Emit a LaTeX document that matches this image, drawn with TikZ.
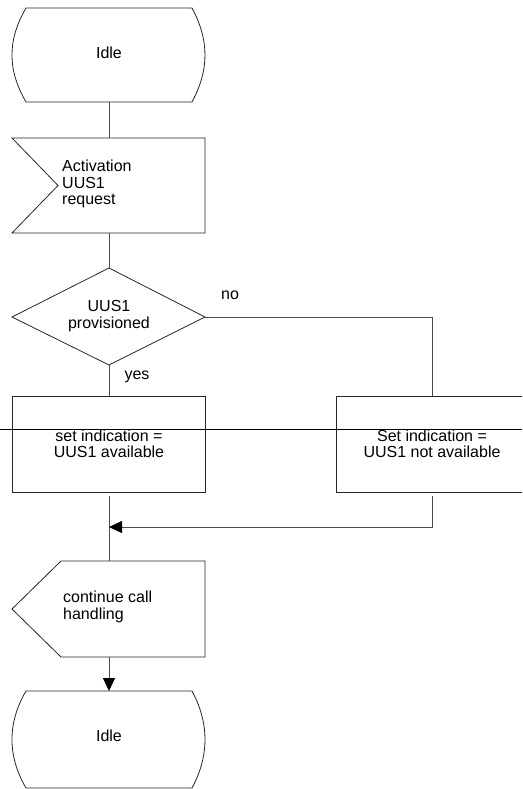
\documentclass[tikz,border=0pt]{standalone}
\usepackage{fontspec}
\setmainfont{Liberation Sans}
\usetikzlibrary{arrows.meta}
\begin{document}
\begin{tikzpicture}[x=1pt,y=-1pt,
  font=\fontsize{16}{16.5}\selectfont,
  shp/.style={draw=black!85, line width=0.8pt},
  conn/.style={draw=black!70, line width=0.8pt},
  lbl/.style={align=center, inner sep=0pt},
  tip/.style={-{Triangle[length=13pt,width=12pt,color=black]}}]
\useasboundingbox (0,0) rectangle (522,789);
\clip (0,0) rectangle (522,789);

% top state
\draw[shp] (26,8) -- (192,8) .. controls (209.3,40) and (209.3,70) .. (192,102)
  -- (26,102) .. controls (7.3,70) and (7.3,40) .. (26,8) -- cycle;
\node[lbl] (idle1) at (109,53) {Idle};
\coordinate (idle1s) at (109,102);

% input signal
\draw[shp] (12,138) -- (205,138) -- (205,233) -- (12,233) -- (58,185.5) -- cycle;
\node[lbl, align=left, anchor=west] (act) at (62,184) {Activation\\UUS1\\request};
\coordinate (actn) at (109,138);
\coordinate (acts) at (109,233);

% decision
\draw[shp] (12,317) -- (109,268) -- (205,317) -- (109,365) -- cycle;
\node[lbl] (dec) at (109,316) {UUS1\\provisioned};
\coordinate (decn) at (109,268);
\coordinate (decs) at (109,365);
\coordinate (dece) at (205,317);
\node[lbl] (no) at (230,295) {no};
\node[lbl] (yes) at (137,377) {yes};

% tasks
\draw[shp] (12,396) rectangle (205,492);
\node[lbl] (lbox) at (109,444) {set indication =\\UUS1 available};
\coordinate (lbn) at (109,396);
\coordinate (lbs) at (109,496);
\draw[shp] (336,396) rectangle (529,492);
\node[lbl] (rbox) at (432,444) {Set indication =\\UUS1 not available};
\coordinate (rbn) at (432,396);
\coordinate (rbs) at (432,496);

% stray line
\coordinate (strayl) at (0,429);
\coordinate (strayr) at (522,429);
\draw[black, line width=0.8pt] (strayl) -- (strayr);

% output signal
\draw[shp] (61,561) -- (205,561) -- (205,657) -- (61,657) -- (12,609) -- cycle;
\node[lbl, align=left, anchor=west] (outp) at (63,607) {continue call\\handling};
\coordinate (outn) at (109,561);
\coordinate (outs) at (109,657);
\coordinate (join) at (109,527);

% bottom state
\draw[shp] (26,691) -- (192,691) .. controls (209.3,723) and (209.3,756) .. (192,788)
  -- (26,788) .. controls (7.3,756) and (7.3,723) .. (26,691) -- cycle;
\node[lbl] (idle2) at (109,736) {Idle};
\coordinate (idle2n) at (109,691);

% connectors
\draw[conn] (idle1s) -- (actn);
\draw[conn] (acts) -- (decn);
\draw[conn] (decs) -- (lbn);
\draw[conn] (dece) -| (rbn);
\draw[conn] (lbs) -- (outn);
\draw[conn, tip] (rbs) |- (join);
\draw[conn, tip] (outs) -- (idle2n);
\end{tikzpicture}
\end{document}
